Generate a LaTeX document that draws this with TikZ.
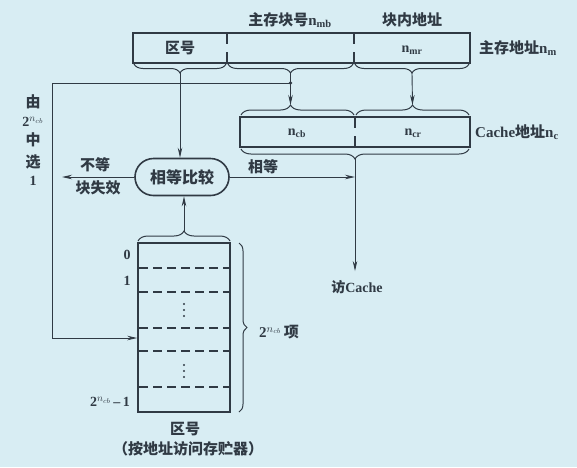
\documentclass[tikz,border=0pt]{standalone}
\usepackage{fontspec}
\setmainfont{Liberation Serif}
\newfontfamily\cjk{Noto Sans CJK SC}
\usetikzlibrary{decorations.pathreplacing,arrows.meta,shapes.misc}
\definecolor{bg}{RGB}{216,237,243}
\definecolor{ink}{RGB}{48,58,68}
\begin{document}
\begin{tikzpicture}[x=1pt,y=-1pt,
  conn/.style={draw=ink,line width=0.9pt},
  arr/.style={conn,-{Stealth[length=10pt,width=4.5pt]}},
  regbox/.style={draw=ink,line width=1.6pt,inner sep=0pt,minimum height=30pt},
  divline/.style={draw=ink,line width=1.4pt,dash pattern=on 11pt off 8pt},
  rowline/.style={draw=ink,line width=1.4pt,dash pattern=on 9pt off 5pt},
  brup/.style={draw=ink,line width=1pt,decorate,decoration={brace,amplitude=#1}},
  brdown/.style={draw=ink,line width=1pt,decorate,decoration={brace,mirror,amplitude=#1}},
  lab/.style={text=ink,inner sep=1pt,font=\cjk\bfseries\fontsize{15}{17}\selectfont},
  serif/.style={text=ink,inner sep=1pt,font=\bfseries\fontsize{14}{16}\selectfont},
]
\fill[bg] (0,0) rectangle (577,467);
\useasboundingbox (0,0) rectangle (577,467);

% main memory address register
\node[regbox,minimum width=337pt] (mreg) at (301.5,48) {};
\draw[divline] (227,33) -- (227,63);
\draw[divline] (354,33) -- (354,63);
\node[lab] (zq) at (180,48) {区号};
\node[serif] (nmr) at (412,50) {n\textsubscript{mr}};
\node[lab] (mb) at (290,20) {主存块号{\rmfamily\bfseries n\textsubscript{mb}}};
\node[lab] (bn) at (412,20) {块内地址};
\node[lab,anchor=west] (ma) at (478,48) {主存地址{\rmfamily\bfseries n\textsubscript{m}}};

\draw[brdown=9pt] (134,64) -- (226,64);
\draw[brdown=9pt] (228,64) -- (353,64);
\draw[brdown=9pt] (355,64) -- (469,64);
\coordinate (t1) at (180,73);
\coordinate (t2) at (290.5,73);
\coordinate (t3) at (412,73);

% cache address register
\node[regbox,minimum width=230pt] (creg) at (355,132) {};
\draw[divline] (355,117) -- (355,147);
\node[serif] (ncb) at (297,133) {n\textsubscript{cb}};
\node[serif] (ncr) at (413,133) {n\textsubscript{cr}};
\node[anchor=west,text=ink,inner sep=1pt] (ca) at (474,132) {\fontsize{15}{17}\selectfont\bfseries Cache{\cjk 地址}n\textsubscript{c}};
\draw[draw=ink,line width=1pt,decorate,decoration={brace,amplitude=10pt,aspect=0.438}] (241,115) -- (354,115);
\draw[brup=10pt] (356,115) -- (469,115);
\draw[brdown=10pt] (241,149) -- (469,149);
\coordinate (c1) at (290.5,105);
\coordinate (c2) at (412.5,105);
\coordinate (c3) at (355,159);

% comparator
\node[draw=ink,line width=1.6pt,rounded rectangle,minimum width=98pt,minimum height=37pt,inner sep=2pt,text=ink,font=\cjk\bfseries\fontsize{16}{18}\selectfont] (cmp) at (182,177) {相等比较};

% table
\node[regbox,minimum width=92pt,minimum height=169pt] (tab) at (184,327.5) {};
\foreach \yy in {268,292,328,351,387} \draw[rowline] (139,\yy) -- (229,\yy);
\foreach \yy in {304,310,316,365,371,377} \fill[ink] (184,\yy) circle (1.2pt);
\draw[brup=10pt] (138,241) -- (230,241);
\coordinate (tb) at (184,231);
\draw[brup=8pt] (239,243) -- (239,412);
\node[lab,anchor=west] (items) at (258,332) {{\rmfamily\bfseries 2$^{n_{cb}}$}\,项};
\node[serif] (r0) at (127,255) {0};
\node[serif] (r1) at (127,281) {1};
\node[serif,anchor=east] (rn) at (131,402) {2$^{n_{cb}}$\,--\,1};
\node[lab] (cap1) at (185,429) {区号};
\node[lab] (cap2) at (188,449) {（按地址访问存贮器）};

% left labels
\node[lab] (L1) at (33,102) {由};
\node[serif] (L2) at (33,122) {2$^{n_{cb}}$};
\node[lab] (L3) at (33,140) {中};
\node[lab] (L4) at (33,162) {选};
\node[serif] (L5) at (33,181) {1};

% connectors
\coordinate (j) at (290.5,83);
\coordinate (lc) at (52,83);
\coordinate (lb) at (52,338);
\draw[conn] (t2) -- (j);
\fill[ink] (j) circle (1.8pt);
\draw[conn] (j) -- (lc) -- (lb);
\draw[arr] (lb) -- (lb -| tab.west);
\draw[arr] (j) -- (c1);
\draw[arr] (t3) -- (c2);
\draw[arr] (t1) -- (t1 |- cmp.north);
\draw[arr] (tb) -- (tb |- cmp.south);

\coordinate (eq) at (c3 |- cmp.east);
\draw[arr] (cmp.east) -- (eq);
\node[lab] (eqlab) at (263,167) {相等};

\coordinate (miss) at (62,177);
\draw[arr] (cmp.west) -- (miss);
\node[lab] (ne1) at (95,165) {不等};
\node[lab] (ne2) at (98,188) {块失效};

\node[text=ink,inner sep=1pt,font=\fontsize{14}{16}\selectfont\bfseries,inner ysep=9pt] (acc) at (357,287) {{\cjk 访}Cache};
\draw[arr] (c3) -- (c3 |- acc.north);
\end{tikzpicture}
\end{document}
